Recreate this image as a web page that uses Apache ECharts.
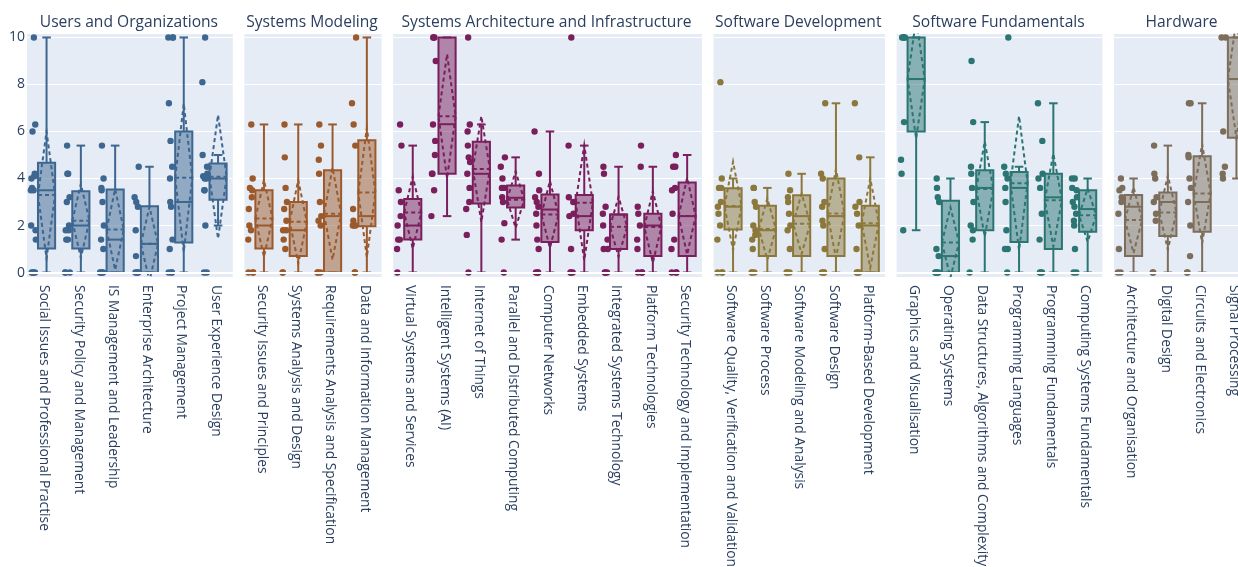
<!DOCTYPE html>
<html>
<head>
<meta charset="utf-8">
<script src="https://cdn.jsdelivr.net/npm/echarts@6/dist/echarts.min.js"></script>
<style>
  html, body { margin: 0; padding: 0; overflow: hidden; background: #ffffff; }
  #chart { width: 1262px; height: 567px; }
</style>
</head>
<body>
<div id="chart"></div>
<script>
// Knowledge-area ratings (0–10) per topic, grouped into six areas.
// Box statistics per topic: [lowerWhisker, q1, median, q3, upperWhisker, mean, sd]

const areaTitles = [
  'Users and Organizations', 'Systems Modeling', 'Systems Architecture and Infrastructure',
  'Software Development', 'Software Fundamentals', 'Hardware'
];

// --- Users and Organizations ---
const usersCategories = [
  'Social Issues and Professional Practise', 'Security Policy and Management',
  'IS Management and Leadership', 'Enterprise Architecture', 'Project Management',
  'User Experience Design'
];
const usersStats = [
  [0, 1.02, 3.5, 4.67, 10, 3.3, 2.7],
  [0, 1.02, 2.0, 3.46, 5.4, 2.2, 1.57],
  [0, 0, 1.4, 3.53, 5.4, 1.83, 1.72],
  [0, 0, 1.22, 2.82, 4.5, 1.22, 1.57],
  [0, 1.28, 3.0, 6.0, 10, 4.03, 3.15],
  [2.0, 3.1, 4.0, 4.64, 5.0, 4.07, 2.63]
];
const usersPoints = [
  [10, 6.3, 6.0, 4.2, 4.1, 4.0, 3.6, 3.5, 3.5, 2.0, 1.8, 1.4, 0, 0, 0, 0],
  [5.4, 4.2, 4.2, 3.2, 3.0, 2.0, 1.8, 1.8, 1.4, 1.4, 0, 0, 0],
  [5.4, 4.0, 3.6, 3.5, 3.0, 2.0, 1.4, 1.0, 0, 0, 0, 0],
  [4.5, 3.2, 3.0, 2.8, 1.8, 0.7, 0, 0, 0, 0],
  [10, 10, 10, 7.2, 5.6, 4.5, 4.0, 3.0, 2.8, 1.4, 1.0, 0, 0, 0],
  [10, 8.1, 5.0, 4.5, 4.2, 4.1, 4.0, 4.0, 3.5, 3.5, 2.0, 0, 0]
];

// --- Systems Modeling ---
const modelingCategories = [
  'Security Issues and Principles', 'Systems Analysis and Design',
  'Requirements Analysis and Specification', 'Data and Information Management'
];
const modelingStats = [
  [0, 1.02, 2.0, 3.5, 6.3, 2.3, 1.63],
  [0, 0.7, 1.8, 3.0, 6.3, 2.16, 1.77],
  [0, 0, 2.4, 4.35, 6.3, 2.5, 1.95],
  [0, 1.97, 2.4, 5.63, 10, 3.4, 2.75]
];
const modelingPoints = [
  [6.3, 4.0, 3.6, 3.5, 3.2, 2.7, 2.0, 1.8, 1.4, 0, 0, 0],
  [6.3, 4.9, 3.6, 3.0, 2.7, 2.2, 1.8, 1.8, 1.4, 1.0, 0, 0],
  [6.3, 5.4, 4.8, 4.2, 3.0, 2.4, 2.2, 2.0, 0, 0, 0],
  [10, 7.2, 6.3, 5.4, 2.7, 2.2, 2.0, 2.0, 2.0, 0, 0]
];

// --- Systems Architecture and Infrastructure ---
const archCategories = [
  'Virtual Systems and Services', 'Intelligent Systems (AI)', 'Internet of Things',
  'Parallel and Distributed Computing', 'Computer Networks', 'Embedded Systems',
  'Integrated Systems Technology', 'Platform Technologies', 'Security Technology and Implementation'
];
const archStats = [
  [0, 1.4, 2.0, 3.13, 5.4, 2.55, 1.53],
  [2.4, 4.2, 6.31, 10, 10, 6.65, 2.64],
  [0, 2.94, 4.2, 5.56, 6.3, 4.4, 2.25],
  [1.4, 2.77, 3.18, 3.7, 4.9, 3.1, 1.2],
  [0, 1.3, 2.68, 3.32, 6.0, 2.47, 1.42],
  [0, 1.8, 2.4, 3.3, 5.4, 2.97, 2.45],
  [0, 1.0, 2.47, 2.47, 4.5, 1.95, 1.27],
  [0, 0.7, 2.0, 2.5, 4.5, 1.94, 1.52],
  [0, 0.7, 2.4, 3.83, 5.0, 2.4, 1.63]
];
const archPoints = [
  [6.3, 5.4, 3.5, 3.0, 2.4, 2.0, 1.4, 1.4, 1.0, 0],
  [10, 10, 10, 9.0, 6.3, 5.6, 5.0, 4.2, 4.2, 3.5, 2.4],
  [10, 6.3, 6.0, 5.4, 4.9, 4.7, 4.2, 3.6, 3.0, 2.7, 1.6, 0],
  [4.9, 4.5, 4.0, 3.6, 3.6, 3.2, 3.0, 2.1, 1.4, 0],
  [6.0, 4.2, 3.5, 3.2, 3.0, 2.8, 2.5, 2.0, 1.4, 1.0, 0, 0, 0],
  [10, 5.4, 3.2, 3.0, 2.5, 2.4, 1.0, 0, 0, 0],
  [4.5, 4.2, 2.8, 2.5, 2.0, 1.4, 1.0, 1.0, 0, 0, 0],
  [5.4, 4.5, 2.8, 2.5, 2.0, 1.4, 1.0, 0, 0, 0],
  [5.0, 4.5, 4.5, 3.6, 3.5, 2.5, 1.4, 1.0, 0, 0, 0]
];

// --- Software Development ---
const devCategories = [
  'Software Quality, Verification and Validation', 'Software Process',
  'Software Modeling and Analysis', 'Software Design', 'Platform-Based Development'
];
const devStats = [
  [0, 1.83, 2.8, 3.59, 4.0, 2.83, 1.88],
  [0, 0.7, 1.8, 2.84, 3.6, 1.85, 1.3],
  [0, 0.7, 2.4, 3.29, 4.2, 2.08, 1.28],
  [0, 0.7, 2.4, 4.0, 7.2, 2.51, 1.88],
  [0, 0, 2.0, 2.84, 4.9, 2.1, 1.9]
];
const devPoints = [
  [8.1, 4.0, 3.6, 3.6, 3.0, 2.8, 2.5, 2.0, 1.4, 0, 0, 0],
  [3.6, 3.6, 3.0, 2.8, 2.0, 1.8, 1.6, 1.4, 1.0, 0, 0, 0],
  [4.2, 3.5, 3.2, 3.0, 2.5, 2.0, 1.8, 1.0, 0, 0, 0],
  [7.2, 4.2, 4.0, 3.0, 2.8, 2.2, 2.0, 1.0, 0, 0, 0],
  [7.2, 4.9, 3.0, 2.8, 2.5, 2.0, 1.0, 0, 0, 0]
];

// --- Software Fundamentals ---
const fundCategories = [
  'Graphics and Visualisation', 'Operating Systems',
  'Data Structures, Algorithms and Complexity', 'Programming Languages',
  'Programming Fundamentals', 'Computing Systems Fundamentals'
];
const fundStats = [
  [1.8, 6.0, 8.23, 10, 10, 8.23, 2.53],
  [0, 0, 0.7, 3.05, 4.0, 1.28, 1.49],
  [0, 1.8, 3.6, 4.35, 6.4, 3.55, 2.02],
  [0, 1.3, 3.6, 4.28, 4.5, 3.8, 2.85],
  [0, 1.0, 3.2, 4.2, 7.2, 3.08, 1.98],
  [0, 1.73, 2.7, 3.5, 4.0, 2.44, 1.13]
];
const fundPoints = [
  [10, 10, 10, 10, 6.4, 4.8, 4.2, 1.8],
  [4.0, 3.6, 3.2, 3.0, 1.0, 0.7, 0, 0, 0, 0],
  [9.0, 6.4, 4.5, 4.2, 3.6, 3.0, 2.0, 1.8, 1.4, 0],
  [10, 4.5, 4.2, 4.0, 3.6, 3.0, 1.8, 1.0, 1.0, 0],
  [7.2, 5.6, 4.2, 4.0, 3.6, 2.5, 1.4, 0, 0, 0],
  [4.0, 4.0, 3.6, 3.5, 3.2, 3.0, 2.8, 2.5, 2.2, 2.0, 1.0, 0, 0]
];

// --- Hardware ---
const hwCategories = [
  'Architecture and Organisation', 'Digital Design', 'Circuits and Electronics', 'Signal Processing'
];
const hwStats = [
  [0, 0.7, 2.8, 3.3, 4.0, 2.23, 1.4],
  [0, 1.55, 3.0, 3.4, 5.4, 2.55, 1.57],
  [0, 1.73, 3.0, 4.95, 7.2, 3.36, 2.1],
  [4.0, 5.73, 8.23, 10, 10, 8.23, 2.5]
];
const hwPoints = [
  [4.0, 3.6, 3.5, 3.2, 3.0, 2.5, 1.0, 0, 0],
  [5.4, 4.2, 4.0, 3.2, 3.0, 2.5, 2.2, 0, 0],
  [7.2, 7.2, 5.0, 4.9, 4.0, 3.6, 3.0, 2.0, 0.7, 0, 0],
  [10, 10, 6.0, 4.5, 4.2, 4.0]
];

const yTicks = [0, 2, 4, 6, 8, 10];

// ---------------------------------------------------------------------------
const panels = [
  { cats: usersCategories,    stats: usersStats,    points: usersPoints,    color: [61, 102, 144] },
  { cats: modelingCategories, stats: modelingStats, points: modelingPoints, color: [156, 90, 44] },
  { cats: archCategories,     stats: archStats,     points: archPoints,     color: [122, 31, 92] },
  { cats: devCategories,      stats: devStats,      points: devPoints,      color: [140, 120, 58] },
  { cats: fundCategories,     stats: fundStats,     points: fundPoints,     color: [43, 117, 115] },
  { cats: hwCategories,       stats: hwStats,       points: hwPoints,       color: [125, 109, 91] }
];

const TEXT = '#2a3f5f';
const PLOT_LEFT = 27, PLOT_TOP = 33, PLOT_H = 244;
const CAT_W = 34.3, PANEL_GAP = 11.6;
const BOX_SHIFT = 0.07, BOX_FRAC = 0.5, CAP_FRAC = 0.5;
const PT_SHIFT = -0.315, PT_JITTER = 0.16;
// fixed spread pattern used to fan overlapping points sideways
const SPREAD = [0.1, -0.35, 0.4, -0.1, 0.25, -0.45, 0.0, 0.35, -0.25, 0.45, -0.05, 0.2, -0.4, 0.3, -0.15, 0.05, -0.3];

const rgb = (c, a) => a == null ? `rgb(${c.join(',')})` : `rgba(${c.join(',')},${a})`;

function boxRenderer(line, fill) {
  return function (params, api) {
    const i = api.value(0);
    const lo = api.value(1), q1 = api.value(2), med = api.value(3), q3 = api.value(4);
    const hi = api.value(5), mean = api.value(6), sd = api.value(7);
    const band = api.size([1, 0])[0];
    const cx = api.coord([i, 0])[0] + band * BOX_SHIFT;
    const hw = band * BOX_FRAC / 2;
    const cw = hw * CAP_FRAC;
    const y = v => api.coord([i, v])[1];
    const solid = { stroke: line, lineWidth: 2, fill: null };
    const dashed = { stroke: line, lineWidth: 2, fill: null, lineDash: [4, 3] };
    return {
      type: 'group',
      children: [
        { type: 'rect', shape: { x: cx - hw, y: y(q3), width: 2 * hw, height: y(q1) - y(q3) },
          style: { fill: fill, stroke: line, lineWidth: 2 } },
        { type: 'line', shape: { x1: cx, y1: y(q3), x2: cx, y2: y(hi) }, style: solid },
        { type: 'line', shape: { x1: cx, y1: y(q1), x2: cx, y2: y(lo) }, style: solid },
        { type: 'line', shape: { x1: cx - cw, y1: y(hi), x2: cx + cw, y2: y(hi) }, style: solid },
        { type: 'line', shape: { x1: cx - cw, y1: y(lo), x2: cx + cw, y2: y(lo) }, style: solid },
        { type: 'line', shape: { x1: cx - hw, y1: y(med), x2: cx + hw, y2: y(med) }, style: solid },
        { type: 'line', shape: { x1: cx - hw, y1: y(mean), x2: cx + hw, y2: y(mean) }, style: dashed },
        { type: 'polygon', shape: { points: [
            [cx - hw, y(mean)], [cx, y(mean + sd)], [cx + hw, y(mean)], [cx, y(mean - sd)]
          ] }, style: dashed }
      ]
    };
  };
}

function pointRenderer(color) {
  return function (params, api) {
    const i = api.value(0), v = api.value(1), k = api.value(2);
    const band = api.size([1, 0])[0];
    const p = api.coord([i, v]);
    const s = SPREAD[(k * 7 + i * 3) % SPREAD.length];
    return {
      type: 'circle',
      shape: { cx: p[0] + band * (PT_SHIFT + PT_JITTER * s), cy: p[1], r: 3.2 },
      style: { fill: color }
    };
  };
}

const grids = [], xAxes = [], yAxes = [], titles = [], series = [];
let left = PLOT_LEFT;
panels.forEach((p, idx) => {
  const width = p.cats.length * CAT_W;
  grids.push({ left: left, top: PLOT_TOP, width: width, height: PLOT_H,
               outerBoundsMode: 'none', containLabel: false,
               show: true, backgroundColor: '#E5ECF6', borderWidth: 0 });
  titles.push({ text: areaTitles[idx], left: left + width / 2 - 1, top: 15, textAlign: 'center', padding: 0,
                textStyle: { fontFamily: 'Open Sans', fontSize: 15.6, fontWeight: 'normal', color: TEXT } });
  xAxes.push({
    type: 'category', gridIndex: idx, data: p.cats, boundaryGap: true,
    axisLine: { show: false }, axisTick: { show: false }, splitLine: { show: false },
    axisLabel: { rotate: -90, interval: 0, margin: 8, color: TEXT, fontFamily: 'Open Sans', fontSize: 13.8 }
  });
  yAxes.push({
    type: 'value', gridIndex: idx, min: -0.19, max: 10.19, splitNumber: 5,
    axisLine: { show: false }, axisTick: { show: false },
    splitLine: { show: true, lineStyle: { color: '#ffffff', width: 1 } },
    axisLabel: {
      show: idx === 0, margin: 2, color: TEXT, fontFamily: 'Open Sans', fontSize: 14,
      formatter: v => {
        const t = yTicks.find(t => Math.abs(t - v) < 1e-6);
        return t == null ? '' : String(t);
      }
    }
  });
  // heavier zero line
  series.push({
    type: 'line', xAxisIndex: idx, yAxisIndex: idx, data: [], z: 1, silent: true,
    markLine: { silent: true, symbol: 'none', label: { show: false },
                lineStyle: { color: '#ffffff', width: 2, type: 'solid' },
                data: [{ yAxis: 0 }] }
  });
  series.push({
    type: 'custom', xAxisIndex: idx, yAxisIndex: idx, z: 3, clip: true, silent: true,
    encode: { x: 0, y: [1, 2, 3, 4, 5] },
    renderItem: boxRenderer(rgb(p.color), rgb(p.color, 0.5)),
    data: p.stats.map((s, i) => [i].concat(s))
  });
  const pts = [];
  p.points.forEach((vals, i) => vals.forEach((v, k) => pts.push([i, v, k])));
  series.push({
    type: 'custom', xAxisIndex: idx, yAxisIndex: idx, z: 4, silent: true,
    encode: { x: 0, y: 1 },
    renderItem: pointRenderer(rgb(p.color)),
    data: pts
  });
  left += width + PANEL_GAP;
});

const chart = echarts.init(document.getElementById('chart'), null, { renderer: 'canvas' });
chart.setOption({
  backgroundColor: '#ffffff',
  animation: false,
  title: titles,
  grid: grids,
  xAxis: xAxes,
  yAxis: yAxes,
  series: series
});
</script>
</body>
</html>
